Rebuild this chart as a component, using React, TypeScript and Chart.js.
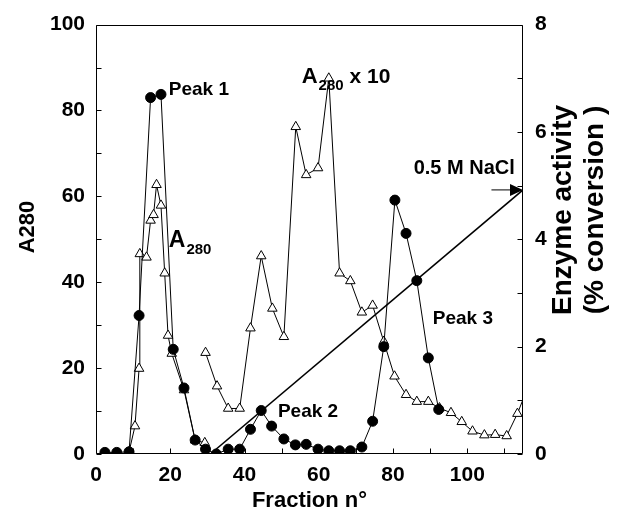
import React, { useEffect, useRef } from "react";
import { Chart, registerables } from "chart.js";

Chart.register(...registerables);

// ---------- data ----------
// Enzyme activity (% conversion), right axis, filled circles
const activityFractions = [2.4, 5.6, 8.9, 11.6, 14.7, 17.5, 20.8, 23.7, 26.7, 29.5, 32.4, 35.6, 38.7, 41.6, 44.5, 47.3, 50.6, 53.7, 56.6, 59.8, 62.7, 65.6, 68.5, 71.6, 74.5, 77.5, 80.5, 83.5, 86.4, 89.5, 92.3];
const activityValues = [0.03, 0.03, 0.04, 2.58, 6.64, 6.7, 1.95, 1.23, 0.26, 0.09, 0.0, 0.09, 0.09, 0.46, 0.81, 0.52, 0.28, 0.17, 0.18, 0.09, 0.06, 0.06, 0.06, 0.13, 0.61, 2.0, 4.73, 4.11, 3.23, 1.79, 0.83];

// A280, left axis, open triangles
const a280Fractions = [8.9, 10.5, 11.6, 11.8, 13.6, 14.7, 15.5, 16.3, 17.5, 18.5, 19.4, 20.4, 23.7, 26.7, 29.3];
const a280Values = [0.5, 6.5, 19.9, 46.6, 45.8, 54.4, 55.7, 62.7, 57.9, 42.1, 27.6, 23.4, 14.9, 3.2, 2.6];

// A280 x 10, left axis, open triangles
const a280x10Fractions = [29.5, 32.6, 35.6, 38.7, 41.6, 44.5, 47.5, 50.6, 53.8, 56.6, 59.8, 62.7, 65.6, 68.5, 71.6, 74.5, 77.5, 80.4, 83.5, 86.4, 89.5, 92.5, 95.6, 98.5, 101.4, 104.6, 107.5, 110.6, 113.5, 116.5];
const a280x10Values = [23.6, 15.8, 10.6, 10.6, 29.3, 46.1, 33.9, 27.3, 76.2, 65.0, 66.6, 87.5, 42.1, 40.3, 33.0, 34.6, 26.2, 18.1, 13.8, 12.2, 12.2, 10.7, 9.6, 7.5, 5.3, 4.4, 4.5, 4.2, 9.4, 16.0];

// NaCl gradient (0 -> 0.5 M), drawn on right axis
const gradientFractions = [30.8, 115];
const gradientValues = [0, 4.92];

// ticks
const xTickMarks = [0, 10, 20, 30, 40, 50, 60, 70, 80, 90, 100, 110];
const leftTickMarks = [0, 10, 20, 30, 40, 50, 60, 70, 80, 90, 100];
const rightTickMarks = [0, 1, 2, 3, 4, 5, 6, 7, 8];

// annotations (data coordinates: fraction, A280 level)
const peakLabels = ["Peak 1", "Peak 2", "Peak 3"];
const peakLabelFractions = [19.6, 49.0, 90.7];
const peakLabelLevels = [84.8, 9.9, 31.4];
const naclLabel = "0.5 M NaCl";

const FONT = '"Liberation Sans", Arial, Helvetica, sans-serif';

const pts = (xs: number[], ys: number[]) => xs.map((x, i) => ({ x, y: ys[i] }));

const overlay = {
  id: "overlay",
  afterDatasetsDraw(chart: any) {
    const { ctx, chartArea: a, scales } = chart;
    const sx = scales.x, sy = scales.y, sy1 = scales.y1;
    ctx.save();
    ctx.strokeStyle = "#000";
    ctx.fillStyle = "#000";
    ctx.lineWidth = 1;
    // frame
    const L = Math.round(a.left) + 0.5, T = Math.round(a.top) + 0.5;
    const R = Math.round(a.right) - 0.5, B = Math.round(a.bottom) - 0.5;
    ctx.beginPath();
    ctx.rect(L, T, R - L, B - T);
    // inward ticks
    xTickMarks.forEach((v) => {
      const px = Math.round(sx.getPixelForValue(v)) + 0.5;
      ctx.moveTo(px, B);
      ctx.lineTo(px, B - 5);
    });
    leftTickMarks.forEach((v) => {
      const py = Math.round(sy.getPixelForValue(v)) + 0.5;
      ctx.moveTo(L, py);
      ctx.lineTo(L + 5, py);
    });
    rightTickMarks.forEach((v) => {
      const py = Math.round(sy1.getPixelForValue(v)) + 0.5;
      ctx.moveTo(R, py);
      ctx.lineTo(R - 5, py);
    });
    ctx.stroke();

    // peak labels
    ctx.font = `bold 19px ${FONT}`;
    ctx.textAlign = "left";
    ctx.textBaseline = "middle";
    peakLabels.forEach((t, i) => {
      ctx.fillText(t, sx.getPixelForValue(peakLabelFractions[i]), sy.getPixelForValue(peakLabelLevels[i]));
    });

    // 0.5 M NaCl label + arrow
    ctx.font = `bold 20px ${FONT}`;
    ctx.textAlign = "right";
    ctx.fillText(naclLabel, sx.getPixelForValue(112.8), sy.getPixelForValue(66.5));
    const ay = sy1.getPixelForValue(gradientValues[1]);
    const ax0 = sx.getPixelForValue(106.5);
    const axTip = sx.getPixelForValue(115);
    ctx.beginPath();
    ctx.moveTo(ax0, ay);
    ctx.lineTo(axTip - 10, ay);
    ctx.stroke();
    ctx.beginPath();
    ctx.moveTo(axTip, ay);
    ctx.lineTo(axTip - 13, ay - 6);
    ctx.lineTo(axTip - 13, ay + 6);
    ctx.closePath();
    ctx.fill();

    // subscripted labels
    const drawSub = (px: number, py: number, big: number, small: number, rest: string) => {
      ctx.textAlign = "left";
      ctx.textBaseline = "alphabetic";
      ctx.font = `bold ${big}px ${FONT}`;
      ctx.fillText("A", px, py);
      let w = ctx.measureText("A").width + 1;
      ctx.font = `bold ${small}px ${FONT}`;
      ctx.fillText("280", px + w, py + 7);
      w += ctx.measureText("280").width;
      if (rest) {
        ctx.font = `bold 21px ${FONT}`;
        ctx.fillText(rest, px + w, py);
      }
    };
    drawSub(sx.getPixelForValue(55.4), sy.getPixelForValue(86.4), 22, 15, " x 10");
    drawSub(sx.getPixelForValue(19.6), sy.getPixelForValue(48.3), 23, 15, "");

    // axis titles
    ctx.textAlign = "center";
    ctx.textBaseline = "middle";
    ctx.font = `bold 22px ${FONT}`;
    ctx.fillText("Fraction n°", (a.left + a.right) / 2, 501);

    ctx.save();
    ctx.translate(28, 227);
    ctx.rotate(-Math.PI / 2);
    ctx.fillText("A280", 0, 0);
    ctx.restore();

    ctx.save();
    ctx.font = `bold 28px ${FONT}`;
    ctx.translate(563, 210);
    ctx.rotate(-Math.PI / 2);
    ctx.fillText("Enzyme activity", 0, 0);
    ctx.restore();

    ctx.save();
    ctx.font = `bold 28px ${FONT}`;
    ctx.translate(595, 210);
    ctx.rotate(-Math.PI / 2);
    ctx.fillText("(% conversion )", 0, 0);
    ctx.restore();

    ctx.restore();
  },
};

export default function App() {
  const ref = useRef<HTMLCanvasElement | null>(null);
  useEffect(() => {
    if (!ref.current) return;
    const tickFont = { family: FONT, size: 21, weight: "bold" as const };
    const chart = new Chart(ref.current, {
      type: "line",
      data: {
        datasets: [
          {
            label: "Enzyme activity",
            data: pts(activityFractions, activityValues),
            yAxisID: "y1",
            borderColor: "#000",
            borderWidth: 1,
            backgroundColor: "#000",
            pointStyle: "circle",
            pointRadius: 5,
            pointBorderWidth: 1,
            pointBackgroundColor: "#000",
            pointBorderColor: "#000",
            tension: 0,
          },
          {
            label: "A280",
            data: pts(a280Fractions, a280Values),
            yAxisID: "y",
            borderColor: "#000",
            borderWidth: 1,
            pointStyle: "triangle",
            pointRadius: 5.5,
            pointBorderWidth: 1,
            pointBackgroundColor: "#fff",
            pointBorderColor: "#000",
            tension: 0,
          },
          {
            label: "A280 x 10",
            data: pts(a280x10Fractions, a280x10Values),
            yAxisID: "y",
            borderColor: "#000",
            borderWidth: 1,
            pointStyle: "triangle",
            pointRadius: 5.5,
            pointBorderWidth: 1,
            pointBackgroundColor: "#fff",
            pointBorderColor: "#000",
            tension: 0,
          },
          {
            label: "NaCl gradient",
            data: pts(gradientFractions, gradientValues),
            yAxisID: "y1",
            borderColor: "#000",
            borderWidth: 1.5,
            pointRadius: 0,
            tension: 0,
          },
        ],
      },
      options: {
        responsive: false,
        animation: false,
        devicePixelRatio: 1,
        layout: { padding: { top: 21, left: 0, right: 0, bottom: 0 } },
        plugins: { legend: { display: false }, tooltip: { enabled: false } },
        scales: {
          x: {
            type: "linear",
            min: 0,
            max: 115,
            grid: { display: false, drawTicks: false },
            border: { display: false },
            ticks: {
              stepSize: 20,
              autoSkip: false,
              maxRotation: 0,
              padding: 9,
              color: "#000",
              font: tickFont,
              callback: (v: any) => (Number(v) % 20 === 0 ? String(v) : ""),
            },
            afterFit: (s: any) => {
              s.height = 74;
            },
          },
          y: {
            type: "linear",
            position: "left",
            min: 0,
            max: 100,
            grid: { display: false, drawTicks: false },
            border: { display: false },
            ticks: { stepSize: 20, padding: 11, color: "#000", font: tickFont },
            afterFit: (s: any) => {
              s.width = 96;
            },
          },
          y1: {
            type: "linear",
            position: "right",
            min: 0,
            max: 8,
            grid: { display: false, drawTicks: false },
            border: { display: false },
            ticks: { stepSize: 2, padding: 12, color: "#000", font: tickFont },
            afterFit: (s: any) => {
              s.width = 107;
            },
          },
        },
      },
      plugins: [overlay],
    });
    return () => chart.destroy();
  }, []);
  return (
    <div style={{ position: "absolute", left: 0, top: 0, width: 630, height: 528, background: "#fff" }}>
      <canvas ref={ref} width={630} height={528} style={{ display: "block" }} />
    </div>
  );
}
